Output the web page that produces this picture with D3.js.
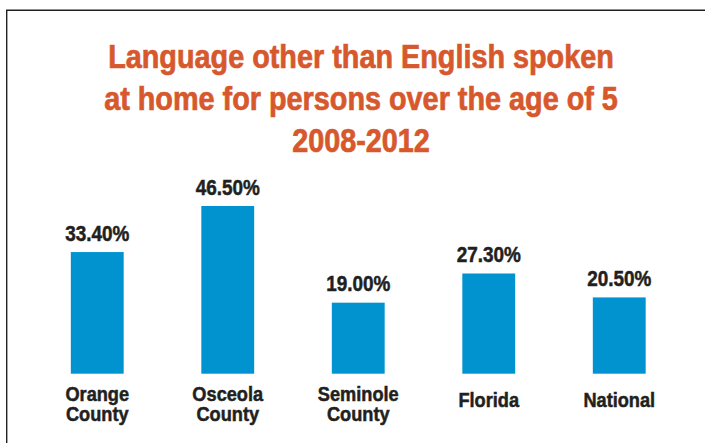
<!DOCTYPE html>
<html>
<head>
<meta charset="utf-8">
<script src="https://cdn.jsdelivr.net/npm/d3@7"></script>
<style>
  html, body { margin: 0; padding: 0; background: #ffffff; }
  svg { display: block; }
  text { font-family: "Liberation Sans", Arial, Helvetica, sans-serif; font-weight: bold; }
</style>
</head>
<body>
<svg id="chart" width="705" height="443"></svg>
<script>
// Share of residents (age 5+) speaking a language other than English at home, 2008-2012
const categories = ["Orange\nCounty", "Osceola\nCounty", "Seminole\nCounty", "Florida", "National"];
const values = [33.4, 46.5, 19.0, 27.3, 20.5];
const valueLabels = ["33.40%", "46.50%", "19.00%", "27.30%", "20.50%"];
const titleLines = [
  "Language other than English spoken",
  "at home for persons over the age of 5",
  "2008-2012"
];

const W = 705, H = 443;
const svg = d3.select("#chart");

// frame: top and left rules
svg.append("path")
  .attr("d", `M${W},10.3H6.7V${H}`)
  .attr("fill", "none")
  .attr("stroke", "#231f20")
  .attr("stroke-width", 1.4);

// title (heavy condensed look: bold face, narrowed, lightly stroked)
const titleColor = "#d6582c";
const title = svg.append("g")
  .attr("transform", "translate(361,0) scale(0.86,1)");
title.selectAll("text")
  .data(titleLines)
  .join("text")
  .attr("x", 0)
  .attr("y", (d, i) => 67.7 + i * 42)
  .attr("text-anchor", "middle")
  .attr("font-size", 33.5)
  .attr("fill", titleColor)
  .attr("stroke", titleColor)
  .attr("stroke-width", 0.7)
  .text(d => d);

// scales
const x = d3.scaleBand()
  .domain(categories)
  .range([32, 684.5])
  .paddingInner(0.595)
  .paddingOuter(0.2975);

const y = d3.scaleLinear()
  .domain([-1.2, 46.5])
  .range([373.7, 206]);

const base = y.range()[0];
const ink = "#231f20";

// bars
svg.append("g")
  .selectAll("rect")
  .data(values)
  .join("rect")
  .attr("x", (d, i) => x(categories[i]))
  .attr("width", x.bandwidth())
  .attr("y", d => y(d))
  .attr("height", d => base - y(d))
  .attr("fill", "#0093cf");

// value labels above bars
svg.append("g")
  .selectAll("text")
  .data(values)
  .join("text")
  .attr("transform", (d, i) =>
    `translate(${x(categories[i]) + x.bandwidth() / 2},${y(d) - 11.5}) scale(0.88,1)`)
  .attr("text-anchor", "middle")
  .attr("font-size", 21.5)
  .attr("fill", ink)
  .attr("stroke", ink)
  .attr("stroke-width", 0.5)
  .text((d, i) => valueLabels[i]);

// category labels under bars
const cat = svg.append("g")
  .selectAll("g")
  .data(categories)
  .join("g")
  .attr("transform", d => {
    const n = d.split("\n").length;
    return `translate(${x(d) + x.bandwidth() / 2},${base + 33.6 - (n - 1) * 6.6}) scale(0.91,1)`;
  });

cat.selectAll("text")
  .data(d => d.split("\n"))
  .join("text")
  .attr("x", 0)
  .attr("y", (d, i) => i * 20.3)
  .attr("text-anchor", "middle")
  .attr("font-size", 20)
  .attr("fill", ink)
  .attr("stroke", ink)
  .attr("stroke-width", 0.5)
  .text(d => d);
</script>
</body>
</html>
